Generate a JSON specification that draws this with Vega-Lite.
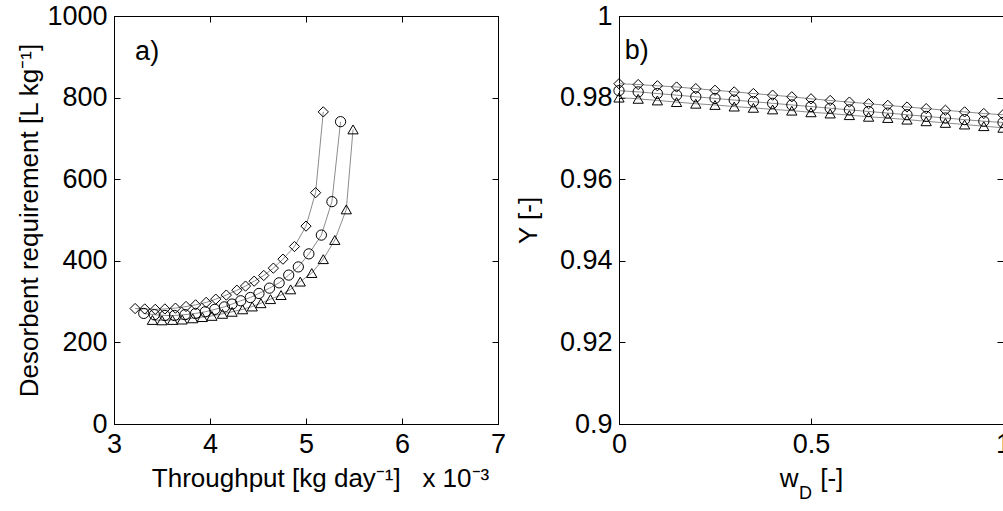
{
  "$schema": "https://vega.github.io/schema/vega-lite/v6.json",
  "background": "white",
  "padding": {"left": 16, "top": 1, "right": 0, "bottom": 0},
  "bounds": "flush",
  "spacing": 121,
  "config": {
    "view": {"stroke": "black", "strokeWidth": 1},
    "font": "Liberation Sans",
    "axis": {
      "grid": false,
      "domainColor": "black",
      "tickColor": "black",
      "tickSize": -6,
      "labelPadding": 13,
      "labelFontSize": 27,
      "labelColor": "black",
      "titleFontSize": 26,
      "titleFontWeight": "normal",
      "titleColor": "black",
      "labelFlush": false,
      "labelOverlap": false
    }
  },
  "datasets": {
    "a": [
      {"s": "D", "t": 3.22, "r": 283}, {"s": "D", "t": 3.32, "r": 282}, {"s": "D", "t": 3.43, "r": 281}, {"s": "D", "t": 3.53, "r": 282},
      {"s": "D", "t": 3.64, "r": 284}, {"s": "D", "t": 3.75, "r": 288}, {"s": "D", "t": 3.85, "r": 292}, {"s": "D", "t": 3.96, "r": 298},
      {"s": "D", "t": 4.06, "r": 306}, {"s": "D", "t": 4.17, "r": 316}, {"s": "D", "t": 4.28, "r": 328}, {"s": "D", "t": 4.37, "r": 338},
      {"s": "D", "t": 4.46, "r": 350}, {"s": "D", "t": 4.56, "r": 364}, {"s": "D", "t": 4.66, "r": 382}, {"s": "D", "t": 4.76, "r": 404},
      {"s": "D", "t": 4.88, "r": 435}, {"s": "D", "t": 5.0, "r": 485}, {"s": "D", "t": 5.1, "r": 567}, {"s": "D", "t": 5.18, "r": 765},
      {"s": "C", "t": 3.31, "r": 271}, {"s": "C", "t": 3.42, "r": 268}, {"s": "C", "t": 3.53, "r": 266}, {"s": "C", "t": 3.63, "r": 266},
      {"s": "C", "t": 3.74, "r": 268}, {"s": "C", "t": 3.85, "r": 271}, {"s": "C", "t": 3.95, "r": 275}, {"s": "C", "t": 4.05, "r": 281},
      {"s": "C", "t": 4.15, "r": 287}, {"s": "C", "t": 4.23, "r": 294}, {"s": "C", "t": 4.32, "r": 302}, {"s": "C", "t": 4.42, "r": 310},
      {"s": "C", "t": 4.51, "r": 320}, {"s": "C", "t": 4.62, "r": 333}, {"s": "C", "t": 4.72, "r": 346}, {"s": "C", "t": 4.82, "r": 365},
      {"s": "C", "t": 4.92, "r": 385}, {"s": "C", "t": 5.03, "r": 417}, {"s": "C", "t": 5.16, "r": 463}, {"s": "C", "t": 5.27, "r": 545},
      {"s": "C", "t": 5.36, "r": 741},
      {"s": "T", "t": 3.4, "r": 255}, {"s": "T", "t": 3.5, "r": 254}, {"s": "T", "t": 3.61, "r": 255}, {"s": "T", "t": 3.71, "r": 256},
      {"s": "T", "t": 3.82, "r": 259}, {"s": "T", "t": 3.92, "r": 262}, {"s": "T", "t": 4.02, "r": 265}, {"s": "T", "t": 4.13, "r": 270},
      {"s": "T", "t": 4.23, "r": 275}, {"s": "T", "t": 4.34, "r": 281}, {"s": "T", "t": 4.44, "r": 288}, {"s": "T", "t": 4.53, "r": 296},
      {"s": "T", "t": 4.63, "r": 306}, {"s": "T", "t": 4.74, "r": 316}, {"s": "T", "t": 4.84, "r": 330}, {"s": "T", "t": 4.94, "r": 349},
      {"s": "T", "t": 5.06, "r": 370}, {"s": "T", "t": 5.18, "r": 404}, {"s": "T", "t": 5.3, "r": 451}, {"s": "T", "t": 5.42, "r": 526},
      {"s": "T", "t": 5.49, "r": 722}
    ],
    "b": [
      {"s": "D", "w": 0, "y": 0.9834}, {"s": "D", "w": 0.05, "y": 0.9832}, {"s": "D", "w": 0.1, "y": 0.9829}, {"s": "D", "w": 0.15, "y": 0.9826},
      {"s": "D", "w": 0.2, "y": 0.9822}, {"s": "D", "w": 0.25, "y": 0.9818}, {"s": "D", "w": 0.3, "y": 0.9814}, {"s": "D", "w": 0.35, "y": 0.981},
      {"s": "D", "w": 0.4, "y": 0.9806}, {"s": "D", "w": 0.45, "y": 0.9802}, {"s": "D", "w": 0.5, "y": 0.9797}, {"s": "D", "w": 0.55, "y": 0.9793},
      {"s": "D", "w": 0.6, "y": 0.9789}, {"s": "D", "w": 0.65, "y": 0.9785}, {"s": "D", "w": 0.7, "y": 0.9781}, {"s": "D", "w": 0.75, "y": 0.9777},
      {"s": "D", "w": 0.8, "y": 0.9773}, {"s": "D", "w": 0.85, "y": 0.9769}, {"s": "D", "w": 0.9, "y": 0.9765}, {"s": "D", "w": 0.95, "y": 0.9761},
      {"s": "D", "w": 1.0, "y": 0.9758},
      {"s": "C", "w": 0, "y": 0.9817}, {"s": "C", "w": 0.05, "y": 0.9814}, {"s": "C", "w": 0.1, "y": 0.981}, {"s": "C", "w": 0.15, "y": 0.9806},
      {"s": "C", "w": 0.2, "y": 0.9802}, {"s": "C", "w": 0.25, "y": 0.9798}, {"s": "C", "w": 0.3, "y": 0.9794}, {"s": "C", "w": 0.35, "y": 0.979},
      {"s": "C", "w": 0.4, "y": 0.9786}, {"s": "C", "w": 0.45, "y": 0.9782}, {"s": "C", "w": 0.5, "y": 0.9778}, {"s": "C", "w": 0.55, "y": 0.9774},
      {"s": "C", "w": 0.6, "y": 0.977}, {"s": "C", "w": 0.65, "y": 0.9766}, {"s": "C", "w": 0.7, "y": 0.9762}, {"s": "C", "w": 0.75, "y": 0.9758},
      {"s": "C", "w": 0.8, "y": 0.9754}, {"s": "C", "w": 0.85, "y": 0.975}, {"s": "C", "w": 0.9, "y": 0.9746}, {"s": "C", "w": 0.95, "y": 0.9742},
      {"s": "C", "w": 1.0, "y": 0.9739},
      {"s": "T", "w": 0, "y": 0.98}, {"s": "T", "w": 0.05, "y": 0.9797}, {"s": "T", "w": 0.1, "y": 0.9793}, {"s": "T", "w": 0.15, "y": 0.9789},
      {"s": "T", "w": 0.2, "y": 0.9785}, {"s": "T", "w": 0.25, "y": 0.9782}, {"s": "T", "w": 0.3, "y": 0.9778}, {"s": "T", "w": 0.35, "y": 0.9775},
      {"s": "T", "w": 0.4, "y": 0.9771}, {"s": "T", "w": 0.45, "y": 0.9768}, {"s": "T", "w": 0.5, "y": 0.9764}, {"s": "T", "w": 0.55, "y": 0.9761},
      {"s": "T", "w": 0.6, "y": 0.9757}, {"s": "T", "w": 0.65, "y": 0.9753}, {"s": "T", "w": 0.7, "y": 0.975}, {"s": "T", "w": 0.75, "y": 0.9746},
      {"s": "T", "w": 0.8, "y": 0.9742}, {"s": "T", "w": 0.85, "y": 0.9738}, {"s": "T", "w": 0.9, "y": 0.9734}, {"s": "T", "w": 0.95, "y": 0.973},
      {"s": "T", "w": 1.0, "y": 0.9726}
    ]
  },
  "hconcat": [
    {
      "width": 384,
      "height": 408,
      "resolve": {"axis": {"x": "independent", "y": "independent"}},
      "layer": [
        {
          "data": {"name": "a"},
          "mark": {"type": "line", "color": "#8c8c8c", "strokeWidth": 1},
          "encoding": {
            "x": {"field": "t", "type": "quantitative", "scale": {"domain": [3, 7], "nice": false, "zero": false},
                  "axis": {"orient": "top", "labels": false, "title": null, "values": [3, 4, 5, 6, 7]}},
            "y": {"field": "r", "type": "quantitative", "scale": {"domain": [0, 1000], "nice": false},
                  "axis": {"orient": "right", "labels": false, "title": null, "values": [0, 200, 400, 600, 800, 1000]}},
            "detail": {"field": "s"}
          }
        },
        {
          "data": {"name": "a"},
          "mark": {"type": "point", "filled": false, "color": "black", "strokeWidth": 1, "size": 105, "opacity": 1},
          "encoding": {
            "x": {"field": "t", "type": "quantitative",
                  "axis": {"orient": "bottom", "values": [3, 4, 5, 6, 7], "format": "d", "title": "Throughput [kg day⁻¹]\u00a0\u00a0\u00a0x 10⁻³", "titlePadding": 8, "titleX": 206}},
            "y": {"field": "r", "type": "quantitative",
                  "axis": {"orient": "left", "values": [0, 200, 400, 600, 800, 1000], "format": "d", "title": "Desorbent requirement [L kg⁻¹]", "titlePadding": 4}},
            "shape": {"field": "s", "type": "nominal", "scale": {"domain": ["D", "C", "T"], "range": ["diamond", "circle", "triangle-up"]}, "legend": null}
          }
        },
        {
          "data": {"values": [{}]},
          "mark": {"type": "text", "text": "a)", "align": "left", "baseline": "middle", "fontSize": 27, "color": "black"},
          "encoding": {"x": {"datum": 3.22, "type": "quantitative", "axis": null}, "y": {"datum": 912, "type": "quantitative", "axis": null}}
        }
      ]
    },
    {
      "width": 384,
      "height": 408,
      "resolve": {"axis": {"x": "independent", "y": "independent"}},
      "layer": [
        {
          "data": {"name": "b"},
          "mark": {"type": "line", "color": "#8c8c8c", "strokeWidth": 1},
          "encoding": {
            "x": {"field": "w", "type": "quantitative", "scale": {"domain": [0, 1], "nice": false},
                  "axis": {"orient": "top", "labels": false, "title": null, "values": [0, 0.5, 1]}},
            "y": {"field": "y", "type": "quantitative", "scale": {"domain": [0.9, 1], "nice": false, "zero": false},
                  "axis": {"orient": "right", "labels": false, "title": null, "values": [0.9, 0.92, 0.94, 0.96, 0.98, 1]}},
            "detail": {"field": "s"}
          }
        },
        {
          "data": {"name": "b"},
          "mark": {"type": "point", "filled": false, "color": "black", "strokeWidth": 1, "size": 105, "opacity": 1},
          "encoding": {
            "x": {"field": "w", "type": "quantitative",
                  "axis": {"orient": "bottom", "values": [0, 0.5, 1], "format": "~g", "title": "w\u00a0\u00a0\u00a0[-]", "titlePadding": 8}},
            "y": {"field": "y", "type": "quantitative",
                  "axis": {"orient": "left", "values": [0.9, 0.92, 0.94, 0.96, 0.98, 1], "format": "~g", "title": "Y [-]", "titlePadding": 18}},
            "shape": {"field": "s", "type": "nominal", "scale": {"domain": ["D", "C", "T"], "range": ["diamond", "circle", "triangle-up"]}, "legend": null}
          }
        },
        {
          "data": {"values": [{}]},
          "mark": {"type": "text", "text": "b)", "align": "left", "baseline": "middle", "fontSize": 27, "color": "black"},
          "encoding": {"x": {"datum": 0.015, "type": "quantitative", "axis": null}, "y": {"datum": 0.9915, "type": "quantitative", "axis": null}}
        },
        {
          "data": {"values": [{}]},
          "mark": {"type": "text", "text": "D", "align": "left", "baseline": "middle", "fontSize": 18, "color": "black", "dx": -12, "dy": 70},
          "encoding": {"x": {"datum": 0.5, "type": "quantitative", "axis": null}, "y": {"datum": 0.9, "type": "quantitative", "axis": null}}
        }
      ]
    }
  ]
}
